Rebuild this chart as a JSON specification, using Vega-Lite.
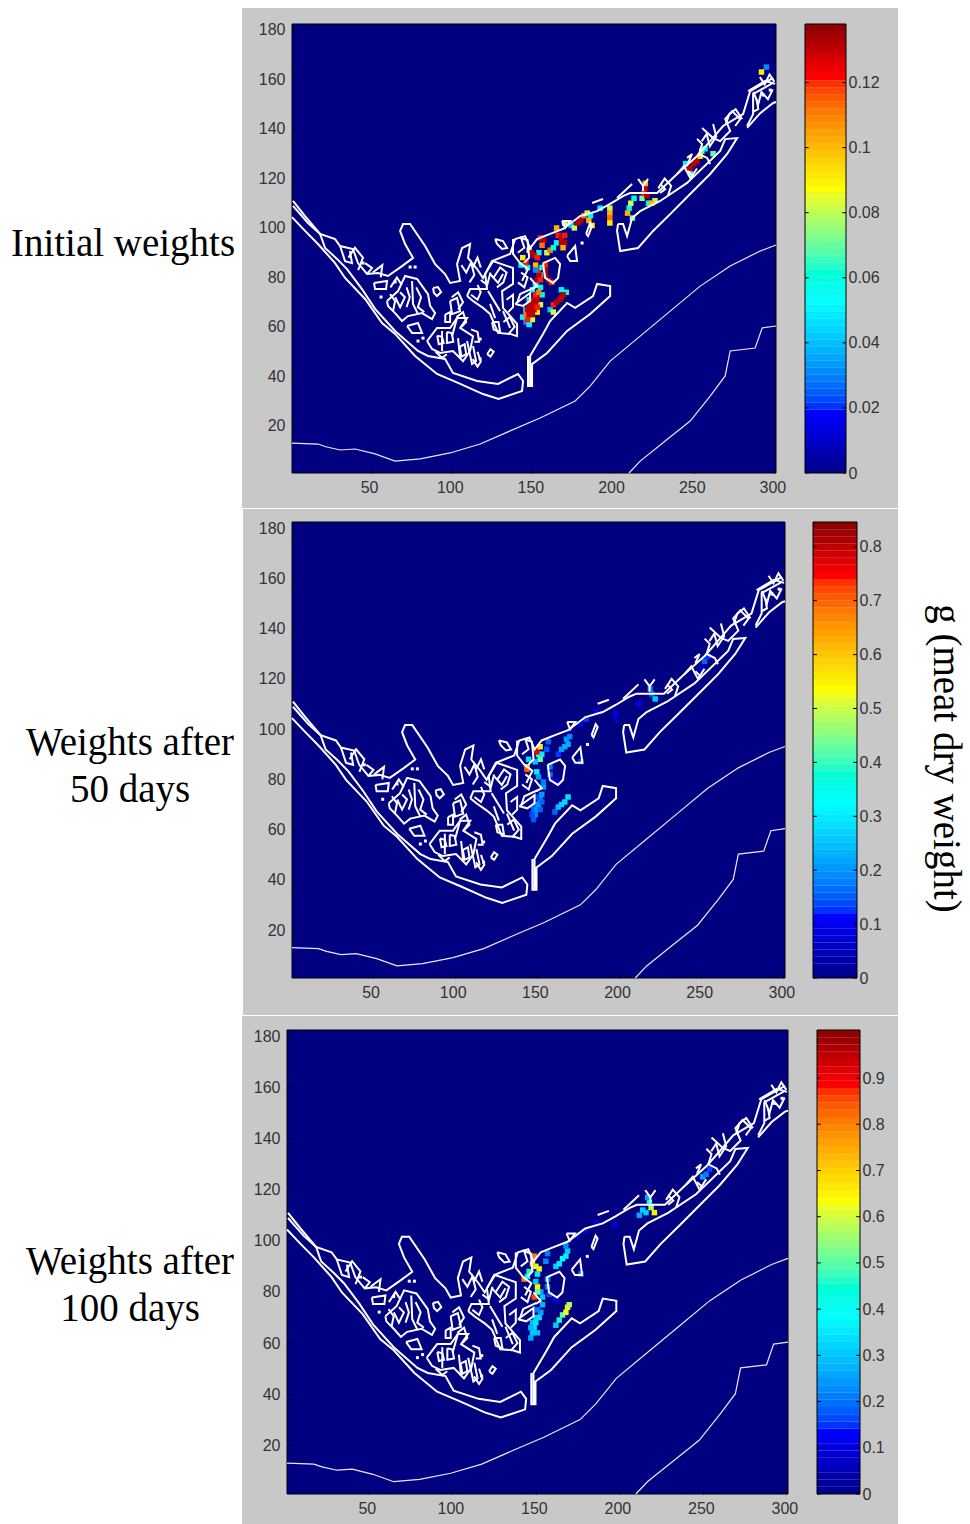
{"$schema":"https://vega.github.io/schema/vega-lite/v6.json","background":"white","padding":{"left":0,"top":7,"right":0,"bottom":0},"config":{"view":{"stroke":null},"axis":{"labelFont":"Liberation Sans","labelFontSize":16,"labelColor":"#333333","title":null,"grid":false}},
"datasets":{
"levels":[{"l":0,"h":1},{"l":1,"h":2},{"l":2,"h":3},{"l":3,"h":4},{"l":4,"h":5},{"l":5,"h":6},{"l":6,"h":7},{"l":7,"h":8},{"l":8,"h":9},{"l":9,"h":10},{"l":10,"h":11},{"l":11,"h":12},{"l":12,"h":13},{"l":13,"h":14},{"l":14,"h":15},{"l":15,"h":16},{"l":16,"h":17},{"l":17,"h":18},{"l":18,"h":19},{"l":19,"h":20},{"l":20,"h":21},{"l":21,"h":22},{"l":22,"h":23},{"l":23,"h":24},{"l":24,"h":25},{"l":25,"h":26},{"l":26,"h":27},{"l":27,"h":28},{"l":28,"h":29},{"l":29,"h":30},{"l":30,"h":31},{"l":31,"h":32},{"l":32,"h":33},{"l":33,"h":34},{"l":34,"h":35},{"l":35,"h":36},{"l":36,"h":37},{"l":37,"h":38},{"l":38,"h":39},{"l":39,"h":40},{"l":40,"h":41},{"l":41,"h":42},{"l":42,"h":43},{"l":43,"h":44},{"l":44,"h":45},{"l":45,"h":46},{"l":46,"h":47},{"l":47,"h":48},{"l":48,"h":49},{"l":49,"h":50},{"l":50,"h":51},{"l":51,"h":52},{"l":52,"h":53},{"l":53,"h":54},{"l":54,"h":55},{"l":55,"h":56},{"l":56,"h":57},{"l":57,"h":58},{"l":58,"h":59},{"l":59,"h":60},{"l":60,"h":61},{"l":61,"h":62},{"l":62,"h":63},{"l":63,"h":64}],
"thin":[{"id":"t1","x":1,"y":13.1},{"id":"t1","x":17.1,"y":12.7},{"id":"t1","x":22,"y":11.6},{"id":"t1","x":30.8,"y":10.3},{"id":"t1","x":40.1,"y":10.7},{"id":"t1","x":52.5,"y":8.7},{"id":"t1","x":64.9,"y":5.8},{"id":"t1","x":80.4,"y":6.7},{"id":"t1","x":99,"y":9.1},{"id":"t1","x":117.6,"y":12.7},{"id":"t1","x":136.2,"y":18},{"id":"t1","x":154.8,"y":23.2},{"id":"t1","x":176.5,"y":30.1},{"id":"t1","x":185.8,"y":36.1},{"id":"t1","x":198.2,"y":46.2},{"id":"t1","x":216.8,"y":56.3},{"id":"t1","x":235.4,"y":66.4},{"id":"t1","x":254,"y":76.5},{"id":"t1","x":272.6,"y":84.6},{"id":"t1","x":291.2,"y":90.7},{"id":"t1","x":301,"y":93.1},{"id":"t2","x":209.9,"y":1},{"id":"t2","x":216.8,"y":5.8},{"id":"t2","x":232.3,"y":13.9},{"id":"t2","x":247.8,"y":22},{"id":"t2","x":260.2,"y":32.1},{"id":"t2","x":269.5,"y":40.2},{"id":"t2","x":272.6,"y":50.3},{"id":"t2","x":288.1,"y":51.5},{"id":"t2","x":292.4,"y":59.6},{"id":"t2","x":301,"y":60.4}],
"coast":[{"id":"c1","x":1,"y":104.4},{"id":"c1","x":9.1,"y":98.8},{"id":"c1","x":17.1,"y":93.5},{"id":"c1","x":27.7,"y":85.8},{"id":"c1","x":33.9,"y":79.8},{"id":"c1","x":46.3,"y":71.3},{"id":"c1","x":56.8,"y":61.6},{"id":"c1","x":64.9,"y":57.2},{"id":"c1","x":77.3,"y":48.3},{"id":"c1","x":90.9,"y":41},{"id":"c1","x":103.9,"y":37.4},{"id":"c1","x":119.4,"y":32.9},{"id":"c1","x":129,"y":30.9},{"id":"c1","x":143.6,"y":34.1},{"id":"c1","x":144.2,"y":38.2},{"id":"c1","x":141.1,"y":41},{"id":"c1","x":128.7,"y":37},{"id":"c1","x":115.7,"y":38.2},{"id":"c1","x":100.8,"y":41.4},{"id":"c1","x":95.9,"y":47.1},{"id":"c1","x":85.3,"y":48.3},{"id":"c1","x":79.1,"y":50.3},{"id":"c1","x":64.9,"y":58.4},{"id":"c1","x":52.5,"y":67.3},{"id":"c1","x":44.4,"y":75.3},{"id":"c1","x":35.1,"y":83.4},{"id":"c1","x":28.9,"y":87.5},{"id":"c1","x":21.5,"y":91.9},{"id":"c1","x":18.4,"y":97.6},{"id":"c1","x":10.9,"y":102},{"id":"c1","x":1.6,"y":108.9},
{"id":"c2","x":1.6,"y":110.9},{"id":"c2","x":9.1,"y":104.8},{"id":"c2","x":18.4,"y":97.6},{"id":"c2","x":27.7,"y":95.5},{"id":"c2","x":30.8,"y":92.7},{"id":"c2","x":38.8,"y":91.5},{"id":"c2","x":41.9,"y":85.8},{"id":"c2","x":47.5,"y":81.4},{"id":"c2","x":54.3,"y":81.8},{"id":"c2","x":60.5,"y":80.6},{"id":"c2","x":69.2,"y":84.6},{"id":"c2","x":76,"y":87.9},{"id":"c2","x":71.1,"y":93.5},{"id":"c2","x":68,"y":98.8},{"id":"c2","x":69.8,"y":101.6},{"id":"c2","x":74.2,"y":101.6},{"id":"c2","x":83.5,"y":92.7},{"id":"c2","x":89.7,"y":85.4},{"id":"c2","x":95.9,"y":81.4},{"id":"c2","x":99,"y":77.8},{"id":"c2","x":105.2,"y":78.6},{"id":"c2","x":103.3,"y":85.4},{"id":"c2","x":106.4,"y":91.9},{"id":"c2","x":111.4,"y":93.5},{"id":"c2","x":110.1,"y":87.9},{"id":"c2","x":115.7,"y":83.4},{"id":"c2","x":119.4,"y":79.8},{"id":"c2","x":125,"y":86.6},{"id":"c2","x":136.2,"y":89.5},{"id":"c2","x":139.3,"y":95.5},{"id":"c2","x":145.5,"y":96.7},{"id":"c2","x":148.6,"y":91.9},{"id":"c2","x":152.9,"y":95.5},{"id":"c2","x":161,"y":97.6},{"id":"c2","x":169,"y":99.6},{"id":"c2","x":179.6,"y":104.8},{"id":"c2","x":190.1,"y":106.8},{"id":"c2","x":198.2,"y":109.7},{"id":"c2","x":206.2,"y":112.9},{"id":"c2","x":210.6,"y":114.1},{"id":"c2","x":227.3,"y":114.1},{"id":"c2","x":239.7,"y":121.8},{"id":"c2","x":252.1,"y":129.1},{"id":"c2","x":260.2,"y":135.1},{"id":"c2","x":268.2,"y":141.2},{"id":"c2","x":280.6,"y":146},{"id":"c2","x":285,"y":155.3},{"id":"c2","x":299.2,"y":160.6},
{"id":"c3","x":203.1,"y":101.6},{"id":"c3","x":202.5,"y":98.8},{"id":"c3","x":204.4,"y":90.7},{"id":"c3","x":215.5,"y":91.9},{"id":"c3","x":224.8,"y":98.8},{"id":"c3","x":235.4,"y":105.6},{"id":"c3","x":247.8,"y":113.7},{"id":"c3","x":260.2,"y":121.8},{"id":"c3","x":270.7,"y":129.9},{"id":"c3","x":276.9,"y":136.3},{"id":"c3","x":269.5,"y":135.9},{"id":"c3","x":266.4,"y":131.1},{"id":"c3","x":245.9,"y":118.2},{"id":"c3","x":229.2,"y":110.9},{"id":"c3","x":216.8,"y":106.8},{"id":"c3","x":211.8,"y":104},{"id":"c3","x":208.7,"y":96.7},{"id":"c3","x":206.2,"y":101.6},{"id":"c3","x":203.1,"y":101.6},
{"id":"c4","x":283.1,"y":141.2},{"id":"c4","x":286.8,"y":146},{"id":"c4","x":286.8,"y":154.1},{"id":"c4","x":299.2,"y":158.6},
{"id":"c4b","x":283.1,"y":140.4},{"id":"c4b","x":291.2,"y":146.4},{"id":"c4b","x":299.2,"y":150.5},{"id":"c4b","x":301,"y":150.9},
{"id":"c5","x":148.6,"y":36.1},{"id":"c5","x":148.6,"y":48.3},{"id":"c5","x":156.6,"y":57.2},{"id":"c5","x":161,"y":62.4},{"id":"c5","x":171.5,"y":69.7},{"id":"c5","x":176.5,"y":67.7},{"id":"c5","x":187.6,"y":72.5},{"id":"c5","x":190.1,"y":77.4},{"id":"c5","x":198.2,"y":76.5},{"id":"c5","x":198.2,"y":72.5},{"id":"c5","x":185.8,"y":65.2},{"id":"c5","x":171.5,"y":58.4},{"id":"c5","x":159.1,"y":49.5},{"id":"c5","x":149.8,"y":45},{"id":"c5","x":149.8,"y":36.1},{"id":"c5","x":147.3,"y":36.1},{"id":"c5","x":147.3,"y":48.3},
{"id":"i1","x":51.8,"y":77.8},{"id":"i1","x":59.9,"y":78.6},{"id":"i1","x":59.3,"y":75.3},{"id":"i1","x":52.5,"y":75.3},{"id":"i1","x":51.8,"y":77.8},
{"id":"i2","x":59.9,"y":70.5},{"id":"i2","x":66.7,"y":74.5},{"id":"i2","x":71.1,"y":80.6},{"id":"i2","x":78.5,"y":79.4},{"id":"i2","x":85.3,"y":73.3},{"id":"i2","x":86.6,"y":68.5},{"id":"i2","x":89.7,"y":65.6},{"id":"i2","x":87.8,"y":63.2},{"id":"i2","x":81.6,"y":65.6},{"id":"i2","x":72.9,"y":64.4},{"id":"i2","x":69.2,"y":62.4},{"id":"i2","x":64.9,"y":65.6},{"id":"i2","x":60.5,"y":68.5},{"id":"i2","x":59.9,"y":70.5},
{"id":"i2b","x":75.4,"y":78.6},{"id":"i2b","x":76,"y":69.3},{"id":"i2b","x":79.1,"y":65.2},
{"id":"i3","x":72.3,"y":60.4},{"id":"i3","x":79.1,"y":61.6},{"id":"i3","x":81.6,"y":57.6},{"id":"i3","x":75.4,"y":57.6},{"id":"i3","x":72.3,"y":60.4},
{"id":"i4","x":88.4,"y":75.7},{"id":"i4","x":91.5,"y":76.1},{"id":"i4","x":93.4,"y":74.1},{"id":"i4","x":90.9,"y":72.5},{"id":"i4","x":89,"y":73.7},{"id":"i4","x":88.4,"y":75.7},
{"id":"d1","x":84.7,"y":54.3},{"id":"d1","x":90.9,"y":59.6},{"id":"d1","x":99,"y":59.6},{"id":"d1","x":103.3,"y":63.6},{"id":"d1","x":109.5,"y":63.6},{"id":"d1","x":105.2,"y":59.6},{"id":"d1","x":113.2,"y":56.3},{"id":"d1","x":111.4,"y":50.3},{"id":"d1","x":107,"y":46.2},{"id":"d1","x":100.8,"y":50.3},{"id":"d1","x":92.8,"y":49.5},{"id":"d1","x":87.8,"y":51.1},{"id":"d1","x":84.7,"y":54.3},
{"id":"d3","x":94,"y":58.4},{"id":"d3","x":94,"y":50.3},
{"id":"d5","x":103.9,"y":55.5},{"id":"d5","x":105.2,"y":47.5},
{"id":"d6","x":109.5,"y":54.3},{"id":"d6","x":112.6,"y":45},{"id":"d6","x":115.1,"y":46.2},{"id":"d6","x":113.2,"y":52.3},
{"id":"d7","x":99,"y":70.5},{"id":"d7","x":103.3,"y":71.7},{"id":"d7","x":105.2,"y":66.4},{"id":"d7","x":100.2,"y":65.2},{"id":"d7","x":99,"y":70.5},
{"id":"d9","x":103.3,"y":63.6},{"id":"d9","x":100.2,"y":56.3},
{"id":"l1","x":91,"y":56.5},{"id":"l1","x":94,"y":56},{"id":"l1","x":95,"y":53.5},{"id":"l1","x":92,"y":53},{"id":"l1","x":91,"y":56.5},
{"id":"l2","x":97,"y":58},{"id":"l2","x":100,"y":57.5},{"id":"l2","x":101,"y":54},{"id":"l2","x":97,"y":53.5},{"id":"l2","x":97,"y":58},
{"id":"l3","x":105,"y":52},{"id":"l3","x":108,"y":53},{"id":"l3","x":109,"y":49},{"id":"l3","x":106,"y":48},{"id":"l3","x":105,"y":52},
{"id":"l4","x":90,"y":50},{"id":"l4","x":94,"y":47.5},{"id":"l4","x":97,"y":49},
{"id":"l5","x":112,"y":59},{"id":"l5","x":116,"y":58},{"id":"l5","x":117,"y":54},{"id":"l5","x":114,"y":54},
{"id":"l6","x":103,"y":64},{"id":"l6","x":107,"y":66},{"id":"l6","x":109,"y":62},{"id":"l6","x":106,"y":60},
{"id":"l7","x":100,"y":72},{"id":"l7","x":104,"y":74},{"id":"l7","x":107,"y":70},{"id":"l7","x":104,"y":67},
{"id":"l8","x":96,"y":65},{"id":"l8","x":99,"y":66},{"id":"l8","x":99,"y":62},{"id":"l8","x":96,"y":62},{"id":"l8","x":96,"y":65},
{"id":"l9","x":113,"y":47},{"id":"l9","x":116,"y":44},{"id":"l9","x":118,"y":46},{"id":"l9","x":116,"y":50},
{"id":"l10","x":122,"y":49},{"id":"l10","x":124,"y":48},{"id":"l10","x":126,"y":50},{"id":"l10","x":124,"y":51},{"id":"l10","x":122,"y":49},
{"id":"e1","x":109.5,"y":72.5},{"id":"e1","x":111.4,"y":75.3},{"id":"e1","x":121.9,"y":75.3},{"id":"e1","x":120.7,"y":81.4},{"id":"e1","x":125.6,"y":86.6},{"id":"e1","x":138,"y":83.8},{"id":"e1","x":138,"y":77.4},{"id":"e1","x":131.2,"y":74.5},{"id":"e1","x":131.8,"y":67.7},{"id":"e1","x":140.5,"y":61.2},{"id":"e1","x":140.5,"y":56.3},{"id":"e1","x":136.2,"y":57.2},{"id":"e1","x":128.7,"y":57.6},{"id":"e1","x":123.8,"y":65.2},{"id":"e1","x":119.4,"y":67.7},{"id":"e1","x":113.2,"y":70.5},{"id":"e1","x":109.5,"y":72.5},
{"id":"e2","x":123.8,"y":81.4},{"id":"e2","x":128.7,"y":77.8},{"id":"e2","x":131.8,"y":81.4},
{"id":"e3","x":122.5,"y":74.5},{"id":"e3","x":130,"y":66.4},
{"id":"e4","x":123.8,"y":69.3},{"id":"e4","x":126.9,"y":63.6},
{"id":"e5","x":131.8,"y":66.4},{"id":"e5","x":136.2,"y":59.6},
{"id":"e6","x":126.9,"y":95.5},{"id":"e6","x":131.8,"y":94.7},{"id":"e6","x":134.3,"y":91.9},{"id":"e6","x":131.2,"y":91.5},{"id":"e6","x":128.1,"y":93.5},{"id":"e6","x":126.9,"y":95.5},
{"id":"m1","x":112,"y":73},{"id":"m1","x":116,"y":71},{"id":"m1","x":118,"y":74},{"id":"m1","x":116,"y":77},
{"id":"m2","x":126,"y":80},{"id":"m2","x":130,"y":84},{"id":"m2","x":134,"y":82},{"id":"m2","x":132,"y":78},{"id":"m2","x":128,"y":76},
{"id":"m3","x":134,"y":71},{"id":"m3","x":138,"y":73},{"id":"m3","x":138,"y":68},{"id":"m3","x":135,"y":66},
{"id":"m4","x":125,"y":62},{"id":"m4","x":129,"y":62},{"id":"m4","x":130,"y":58},{"id":"m4","x":126,"y":59},{"id":"m4","x":125,"y":62},
{"id":"m5","x":132,"y":62},{"id":"m5","x":136,"y":64},{"id":"m5","x":139,"y":60},{"id":"m5","x":135,"y":57},
{"id":"m6","x":118,"y":79},{"id":"m6","x":122,"y":77},{"id":"m6","x":124,"y":82},
{"id":"m7","x":113,"y":84},{"id":"m7","x":116,"y":88},{"id":"m7","x":118,"y":84},
{"id":"m8","x":106,"y":85},{"id":"m8","x":109,"y":82},{"id":"m8","x":112,"y":86},{"id":"m8","x":114,"y":81},{"id":"m8","x":111,"y":78},
{"id":"m9","x":141,"y":90},{"id":"m9","x":145,"y":92},{"id":"m9","x":143,"y":96},{"id":"m9","x":147,"y":95},{"id":"m9","x":148,"y":88},{"id":"m9","x":145,"y":86},
{"id":"m10","x":141,"y":78},{"id":"m10","x":145,"y":76},{"id":"m10","x":147,"y":80},{"id":"m10","x":143,"y":82},
{"id":"n1","x":36,"y":88},{"id":"n1","x":40,"y":92},{"id":"n1","x":45,"y":88},{"id":"n1","x":42,"y":83},
{"id":"n2","x":51,"y":82},{"id":"n2","x":57,"y":85},{"id":"n2","x":56,"y":80},
{"id":"n3","x":62,"y":76},{"id":"n3","x":66,"y":80},{"id":"n3","x":69,"y":77},
{"id":"n4","x":65,"y":72},{"id":"n4","x":68,"y":68},{"id":"n4","x":71,"y":72},{"id":"n4","x":68,"y":74},
{"id":"n5","x":78,"y":76},{"id":"n5","x":81,"y":72},{"id":"n5","x":79,"y":68},{"id":"n5","x":83,"y":66},
{"id":"n6","x":72,"y":76},{"id":"n6","x":74,"y":72},{"id":"n6","x":72,"y":68},
{"id":"o1","x":255,"y":135},{"id":"o1","x":258,"y":138},{"id":"o1","x":260,"y":133},{"id":"o1","x":264,"y":137},{"id":"o1","x":262,"y":142},
{"id":"o2","x":270,"y":142},{"id":"o2","x":272,"y":146},{"id":"o2","x":276,"y":148},{"id":"o2","x":280,"y":144},
{"id":"o3","x":287,"y":155},{"id":"o3","x":290,"y":150},{"id":"o3","x":292,"y":155},{"id":"o3","x":296,"y":152},{"id":"o3","x":299,"y":156},
{"id":"o4","x":291,"y":161},{"id":"o4","x":294,"y":158},{"id":"o4","x":297,"y":162},{"id":"o4","x":300,"y":159},
{"id":"o5","x":287,"y":147},{"id":"o5","x":290,"y":148},{"id":"o5","x":289,"y":152},
{"id":"o6","x":240,"y":122},{"id":"o6","x":244,"y":125},{"id":"o6","x":248,"y":120},{"id":"o6","x":252,"y":124},
{"id":"o7","x":228,"y":116},{"id":"o7","x":232,"y":120},{"id":"o7","x":236,"y":117},{"id":"o7","x":234,"y":113},
{"id":"f1","x":140.5,"y":69.7},{"id":"f1","x":142.4,"y":73.3},{"id":"f1","x":150.4,"y":75.7},
{"id":"f2","x":139.3,"y":69.3},{"id":"f2","x":148.6,"y":73.7},{"id":"f2","x":148.6,"y":70.5},{"id":"f2","x":144.2,"y":68.5},{"id":"f2","x":139.3,"y":69.3},
{"id":"f3","x":148.6,"y":79.8},{"id":"f3","x":152.9,"y":76.5},{"id":"f3","x":149.8,"y":75.3},
{"id":"f4","x":138,"y":95.5},{"id":"f4","x":138,"y":89.5},{"id":"f4","x":142.4,"y":85.8},{"id":"f4","x":147.3,"y":83.4},{"id":"f4","x":143.6,"y":78.6},
{"id":"g1","x":156.6,"y":85.8},{"id":"g1","x":164.1,"y":87.9},{"id":"g1","x":167.2,"y":85.4},{"id":"g1","x":165.9,"y":79.8},{"id":"g1","x":162.8,"y":77.8},{"id":"g1","x":157.9,"y":79.8},{"id":"g1","x":156.6,"y":85.8},
{"id":"g2","x":171.5,"y":88.7},{"id":"g2","x":176.5,"y":92.7},{"id":"g2","x":177.7,"y":86.6},{"id":"g2","x":173.4,"y":86.6},{"id":"g2","x":171.5,"y":88.7},
{"id":"g3","x":183.3,"y":97.6},{"id":"g3","x":185.8,"y":102},{"id":"g3","x":187,"y":100.8},{"id":"g3","x":184.5,"y":96.7},{"id":"g3","x":183.3,"y":97.6},
{"id":"h1","x":168.4,"y":102.8},{"id":"h1","x":173.4,"y":102.8},{"id":"h1","x":170.3,"y":100},{"id":"h1","x":168.4,"y":102.8},
{"id":"h2","x":187,"y":110.1},{"id":"h2","x":193.8,"y":111.7},
{"id":"h3","x":202.5,"y":112.1},{"id":"h3","x":211.8,"y":117.8},
{"id":"h4","x":215.5,"y":119.8},{"id":"h4","x":218.6,"y":117},{"id":"h4","x":221.7,"y":119.8},
{"id":"h5","x":218.6,"y":117},{"id":"h5","x":218.6,"y":114.9},
{"id":"j1","x":255.2,"y":140.4},{"id":"j1","x":262,"y":136.3},{"id":"j1","x":266.4,"y":135.1},{"id":"j1","x":272.6,"y":139.2},{"id":"j1","x":269.5,"y":144},{"id":"j1","x":273.8,"y":147.2},{"id":"j1","x":278.8,"y":144},{"id":"j1","x":275.7,"y":141.2},
{"id":"j2","x":283.7,"y":155.3},{"id":"j2","x":294.3,"y":159.4},{"id":"j2","x":300.5,"y":158.2},
{"id":"j3","x":252.1,"y":136},{"id":"j3","x":255.2,"y":133.9},{"id":"j3","x":253.3,"y":129.9},{"id":"j3","x":258.3,"y":128.3},{"id":"j3","x":260.2,"y":125.8},
{"id":"j4","x":245.9,"y":128.3},{"id":"j4","x":249,"y":129.9},{"id":"j4","x":246.5,"y":126.2},
{"id":"j5","x":246.5,"y":123},{"id":"j5","x":249.6,"y":121},
{"id":"j6","x":229.2,"y":117.8},{"id":"j6","x":232.3,"y":115.7},{"id":"j6","x":229.2,"y":114.1},
{"id":"k1","x":30.8,"y":92.7},{"id":"k1","x":33.9,"y":86.6},{"id":"k1","x":38.2,"y":85.8},{"id":"k1","x":36.9,"y":90.7},
{"id":"k2","x":46.3,"y":85.8},{"id":"k2","x":50.6,"y":83.8},{"id":"k2","x":47.5,"y":81.4},
{"id":"k3","x":61.8,"y":73.3},{"id":"k3","x":64.9,"y":70.5},{"id":"k3","x":63.6,"y":66.4}],
"dots":[{"x":64.9,"y":78.2},{"x":56.2,"y":72.1},{"x":79.1,"y":54.3},{"x":82.2,"y":55.5},{"x":117.6,"y":55.1},{"x":117.6,"y":47.1},{"x":180.8,"y":93.9},{"x":293,"y":153.7},{"x":297.4,"y":155.7},{"x":45,"y":85.8},{"x":74.2,"y":84.2},{"x":77.3,"y":84.2}],
"h1":[{"x":146,"y":62,"v":0.03},{"x":148,"y":61,"v":0.05},{"x":150,"y":63,"v":0.08},{"x":153,"y":66,"v":0.09},{"x":155,"y":69,"v":0.08},{"x":156,"y":73,"v":0.06},{"x":155,"y":76,"v":0.06},{"x":152,"y":77,"v":0.07},{"x":150,"y":75,"v":0.05},{"x":148,"y":71,"v":0.05},{"x":146,"y":67,"v":0.05},{"x":144,"y":64,"v":0.05},{"x":147,"y":63,"v":0.12},{"x":146,"y":65,"v":0.11},{"x":148,"y":65,"v":0.13},{"x":150,"y":65,"v":0.13},{"x":147,"y":67,"v":0.13},{"x":149,"y":67,"v":0.13},{"x":151,"y":67,"v":0.13},{"x":148,"y":69,"v":0.13},{"x":150,"y":69,"v":0.13},{"x":152,"y":69,"v":0.13},{"x":153,"y":68,"v":0.12},{"x":150,"y":71,"v":0.13},{"x":152,"y":71,"v":0.13},{"x":153,"y":71,"v":0.13},{"x":152,"y":73,"v":0.12},{"x":154,"y":74,"v":0.11},{"x":152,"y":77,"v":0.05},{"x":156,"y":81,"v":0.05},{"x":153,"y":79,"v":0.13},{"x":154,"y":81,"v":0.13},{"x":155,"y":79,"v":0.12},{"x":153.5,"y":83,"v":0.12},{"x":161,"y":67,"v":0.04},{"x":163,"y":66,"v":0.08},{"x":171,"y":74,"v":0.06},{"x":168,"y":75,"v":0.05},{"x":163,"y":69,"v":0.12},{"x":165,"y":70,"v":0.13},{"x":167,"y":71,"v":0.13},{"x":169,"y":73,"v":0.13},{"x":168,"y":72,"v":0.13},{"x":156,"y":84,"v":0.06},{"x":158,"y":85,"v":0.12},{"x":158,"y":83,"v":0.13},{"x":158,"y":81,"v":0.13},{"x":160,"y":79,"v":0.13},{"x":162,"y":78,"v":0.12},{"x":148,"y":91,"v":0.08},{"x":154,"y":90,"v":0.06},{"x":149,"y":90,"v":0.13},{"x":151,"y":89,"v":0.13},{"x":153,"y":88,"v":0.12},{"x":143,"y":85,"v":0.05},{"x":147,"y":84,"v":0.06},{"x":144,"y":88,"v":0.09},{"x":146,"y":86,"v":0.12},{"x":152,"y":85,"v":0.1},{"x":152,"y":83,"v":0.03},{"x":155,"y":96,"v":0.12},{"x":157,"y":95,"v":0.13},{"x":156,"y":93,"v":0.11},{"x":165,"y":94,"v":0.05},{"x":166,"y":97,"v":0.12},{"x":168,"y":96,"v":0.13},{"x":170,"y":97,"v":0.12},{"x":168,"y":94,"v":0.13},{"x":170,"y":94,"v":0.13},{"x":169,"y":92,"v":0.1},{"x":159,"y":90,"v":0.08},{"x":161,"y":91,"v":0.11},{"x":163,"y":92,"v":0.06},{"x":174,"y":101,"v":0.04},{"x":176,"y":100,"v":0.08},{"x":178,"y":102,"v":0.13},{"x":180,"y":103,"v":0.13},{"x":182,"y":105,"v":0.11},{"x":184,"y":106,"v":0.08},{"x":186,"y":105,"v":0.05},{"x":185,"y":103,"v":0.1},{"x":187,"y":101,"v":0.09},{"x":165,"y":100,"v":0.1},{"x":170,"y":102,"v":0.08},{"x":198,"y":108,"v":0.08},{"x":198,"y":106,"v":0.1},{"x":198,"y":104,"v":0.11},{"x":198,"y":102,"v":0.09},{"x":192,"y":108,"v":0.05},{"x":210,"y":108,"v":0.05},{"x":211,"y":110,"v":0.08},{"x":213,"y":112,"v":0.06},{"x":209,"y":106,"v":0.1},{"x":212,"y":104,"v":0.07},{"x":222,"y":110,"v":0.06},{"x":218,"y":112,"v":0.07},{"x":226,"y":111,"v":0.08},{"x":220,"y":116,"v":0.13},{"x":219,"y":114,"v":0.12},{"x":221,"y":113,"v":0.13},{"x":224,"y":110,"v":0.1},{"x":220,"y":118,"v":0.1},{"x":248,"y":122,"v":0.05},{"x":245,"y":126,"v":0.05},{"x":246,"y":124,"v":0.13},{"x":248,"y":124,"v":0.13},{"x":250,"y":126,"v":0.13},{"x":252,"y":127,"v":0.13},{"x":254,"y":129,"v":0.09},{"x":255,"y":131,"v":0.07},{"x":257,"y":132,"v":0.06},{"x":262,"y":130,"v":0.07},{"x":295,"y":165,"v":0.03},{"x":292,"y":163,"v":0.09}],
"h2":[{"x":148,"y":64,"v":0.14},{"x":149,"y":66,"v":0.18},{"x":147,"y":66,"v":0.13},{"x":148,"y":68,"v":0.15},{"x":150,"y":68,"v":0.2},{"x":149,"y":70,"v":0.15},{"x":151,"y":70,"v":0.2},{"x":152,"y":72,"v":0.18},{"x":150,"y":73,"v":0.13},{"x":153,"y":74,"v":0.2},{"x":154,"y":77,"v":0.2},{"x":154,"y":79,"v":0.17},{"x":152,"y":68,"v":0.15},{"x":153,"y":71,"v":0.15},{"x":161,"y":67,"v":0.15},{"x":163,"y":69,"v":0.24},{"x":165,"y":70,"v":0.26},{"x":167,"y":71,"v":0.27},{"x":169,"y":73,"v":0.28},{"x":163,"y":90,"v":0.12},{"x":165,"y":92,"v":0.2},{"x":167,"y":93,"v":0.22},{"x":169,"y":94,"v":0.22},{"x":168,"y":96,"v":0.2},{"x":170,"y":97,"v":0.18},{"x":157,"y":95,"v":0.15},{"x":156,"y":92,"v":0.14},{"x":151,"y":90,"v":0.35},{"x":152,"y":88,"v":0.42},{"x":153,"y":90,"v":0.3},{"x":149,"y":87,"v":0.25},{"x":145,"y":88,"v":0.28},{"x":144,"y":85,"v":0.5},{"x":150,"y":91,"v":0.75},{"x":144,"y":84,"v":0.7},{"x":152,"y":93,"v":0.55},{"x":150,"y":83,"v":0.3},{"x":151,"y":81,"v":0.2},{"x":158,"y":85,"v":0.17},{"x":158,"y":82,"v":0.16},{"x":159,"y":80,"v":0.1},{"x":163,"y":79,"v":0.08},{"x":177,"y":87,"v":0.13},{"x":198,"y":106,"v":0.08},{"x":198,"y":104,"v":0.06},{"x":170,"y":100,"v":0.1},{"x":176,"y":102,"v":0.1},{"x":180,"y":104,"v":0.12},{"x":186,"y":107,"v":0.1},{"x":219,"y":116,"v":0.17},{"x":220,"y":114,"v":0.15},{"x":222,"y":112,"v":0.25},{"x":212,"y":110,"v":0.1},{"x":252,"y":127,"v":0.15},{"x":254,"y":129,"v":0.12},{"x":250,"y":124,"v":0.08}],
"h3":[{"x":162,"y":67,"v":0.3},{"x":164,"y":69,"v":0.45},{"x":166,"y":71,"v":0.5},{"x":168,"y":72,"v":0.6},{"x":169,"y":74,"v":0.65},{"x":170,"y":75,"v":0.55},{"x":147,"y":62,"v":0.25},{"x":148,"y":64,"v":0.3},{"x":149,"y":66,"v":0.33},{"x":147,"y":66,"v":0.27},{"x":148,"y":68,"v":0.28},{"x":151,"y":64,"v":0.28},{"x":150,"y":68,"v":0.33},{"x":150,"y":70,"v":0.3},{"x":152,"y":70,"v":0.32},{"x":153,"y":72,"v":0.25},{"x":151,"y":73,"v":0.2},{"x":154,"y":75,"v":0.27},{"x":154,"y":78,"v":0.3},{"x":153,"y":80,"v":0.25},{"x":162,"y":90,"v":0.3},{"x":164,"y":91,"v":0.35},{"x":166,"y":93,"v":0.38},{"x":168,"y":94,"v":0.35},{"x":169,"y":96,"v":0.3},{"x":168,"y":98,"v":0.22},{"x":157,"y":95,"v":0.2},{"x":156,"y":92,"v":0.22},{"x":150,"y":90,"v":0.6},{"x":148,"y":91,"v":0.7},{"x":152,"y":89,"v":0.65},{"x":146,"y":88,"v":0.45},{"x":151,"y":87,"v":0.35},{"x":143,"y":85,"v":0.8},{"x":145,"y":86,"v":0.4},{"x":149,"y":94,"v":0.8},{"x":151,"y":82,"v":0.65},{"x":151,"y":80,"v":0.5},{"x":150,"y":84,"v":0.3},{"x":149,"y":78,"v":0.85},{"x":157,"y":85,"v":0.22},{"x":157,"y":82,"v":0.2},{"x":158,"y":79,"v":0.15},{"x":162,"y":77,"v":0.12},{"x":177,"y":87,"v":0.2},{"x":197,"y":106,"v":0.1},{"x":180,"y":104,"v":0.12},{"x":186,"y":107,"v":0.1},{"x":175,"y":102,"v":0.1},{"x":218,"y":115,"v":0.4},{"x":219,"y":113,"v":0.55},{"x":221,"y":111,"v":0.65},{"x":216,"y":111,"v":0.3},{"x":217,"y":117,"v":0.25},{"x":212,"y":110,"v":0.25},{"x":214,"y":112,"v":0.3},{"x":250,"y":125,"v":0.25},{"x":252,"y":126,"v":0.2},{"x":254,"y":128,"v":0.15}]
},
"spacing":0,
"vconcat":[
{"bounds":"flush","spacing":29,"hconcat":[
{"width":263,"height":449,"data":{"values":[{"label":"Initial weights"}]},"mark":{"type":"text","font":"Liberation Serif","fontSize":39,"align":"center","baseline":"middle","color":"black"},"encoding":{"text":{"field":"label"},"x":{"value":123},"y":{"value":220}}},
{"width":484,"height":449,"encoding":{"x":{"field":"x","type":"quantitative","scale":{"domain":[1,301],"nice":false,"zero":false},"axis":{"values":[50,100,150,200,250,300],"tickSize":-4,"tickColor":"black","domain":false,"labelPadding":10,"labelOffset":-2,"zindex":1}},"y":{"field":"y","type":"quantitative","scale":{"domain":[1,182.4],"nice":false,"zero":false},"axis":{"values":[20,40,60,80,100,120,140,160,180],"tickSize":-4,"tickColor":"black","domain":false,"labelPadding":11,"zindex":1}}},
"layer":[
{"data":{"values":[{"x":-30,"x2":376.7,"y":-13.1,"y2":188.9}]},"mark":{"type":"rect","color":"#c8c8c8"},"encoding":{"x2":{"field":"x2"},"y2":{"field":"y2"}}},
{"data":{"values":[{"x":1,"x2":301,"y":1,"y2":182.4}]},"mark":{"type":"rect","color":"#000080","stroke":"black","strokeWidth":1},"encoding":{"x2":{"field":"x2"},"y2":{"field":"y2"}}},
{"data":{"name":"h1"},"mark":{"type":"point","shape":"square","filled":true,"size":30,"opacity":1},"encoding":{"color":{"field":"v","type":"quantitative","legend":null,"scale":{"domain":[0,0.01725,0.05175,0.08625,0.12075,0.138],"range":["#00008f","#0000ff","#00ffff","#ffff00","#ff0000","#800000"]}}}},
{"data":{"name":"thin"},"mark":{"type":"line","order":false,"color":"#e8e8f4","strokeWidth":1.2},"encoding":{"detail":{"field":"id"}}},
{"data":{"name":"coast"},"mark":{"type":"line","order":false,"color":"white","strokeWidth":2},"encoding":{"detail":{"field":"id"}}},
{"data":{"name":"dots"},"mark":{"type":"point","shape":"square","filled":true,"size":9,"color":"white","opacity":1}}
],"resolve":{"scale":{"color":"independent"}}},
{"width":41,"height":449,"layer":[
{"data":{"name":"levels"},"mark":{"type":"rect"},"encoding":{"y":{"field":"l","type":"quantitative","axis":null,"scale":{"domain":[0,64],"nice":false,"zero":false}},"y2":{"field":"h"},"color":{"field":"l","type":"quantitative","legend":null,"scale":{"domain":[0,8,24,40,56,64],"range":["#00008f","#0000ff","#00ffff","#ffff00","#ff0000","#800000"]}}}},
{"data":{"values":[{"v":0},{"v":0.02},{"v":0.04},{"v":0.06},{"v":0.08},{"v":0.1},{"v":0.12}]},"mark":{"type":"rule","color":"black"},"encoding":{"x":{"datum":0,"type":"quantitative","axis":null,"scale":{"domain":[0,1]}},"x2":{"datum":0.09},"y":{"field":"v","type":"quantitative","scale":{"domain":[0,0.138],"nice":false,"zero":false},"axis":{"orient":"right","values":[0,0.02,0.04,0.06,0.08,0.1,0.12],"format":".2~f","ticks":false,"domain":false,"labelPadding":2}}}},
{"data":{"values":[{"v":0},{"v":0.02},{"v":0.04},{"v":0.06},{"v":0.08},{"v":0.1},{"v":0.12}]},"mark":{"type":"rule","color":"black"},"encoding":{"x":{"datum":0.91,"type":"quantitative","axis":null,"scale":{"domain":[0,1]}},"x2":{"datum":1},"y":{"field":"v","type":"quantitative","scale":{"domain":[0,0.138],"nice":false,"zero":false},"axis":null}}},
{"data":{"values":[{"f":1}]},"mark":{"type":"rect","filled":false,"stroke":"black","strokeWidth":1},"encoding":{}}
],"resolve":{"scale":{"y":"independent"}}}
]},
{"bounds":"flush","spacing":28,"hconcat":[
{"width":264,"height":456,"data":{"values":[{"label":"Weights after","line":1},{"label":"50 days","line":2}]},"mark":{"type":"text","font":"Liberation Serif","fontSize":39,"align":"center","baseline":"middle","color":"black"},"encoding":{"text":{"field":"label"},"x":{"value":130},"y":{"field":"line","type":"ordinal","axis":null,"scale":{"domain":[1,2],"range":[221,268],"padding":0}}}},
{"width":493,"height":456,"encoding":{"x":{"field":"x","type":"quantitative","scale":{"domain":[1,301],"nice":false,"zero":false},"axis":{"values":[50,100,150,200,250,300],"tickSize":-4,"tickColor":"black","domain":false,"labelPadding":10,"labelOffset":-2,"zindex":1}},"y":{"field":"y","type":"quantitative","scale":{"domain":[1,182.4],"nice":false,"zero":false},"axis":{"values":[20,40,60,80,100,120,140,160,180],"tickSize":-4,"tickColor":"black","domain":false,"labelPadding":11,"zindex":1}}},
"layer":[
{"data":{"values":[{"x":-28.8,"x2":369.8,"y":-13.7,"y2":187.6}]},"mark":{"type":"rect","color":"#c8c8c8"},"encoding":{"x2":{"field":"x2"},"y2":{"field":"y2"}}},
{"data":{"values":[{"x":1,"x2":301,"y":1,"y2":182.4}]},"mark":{"type":"rect","color":"#000080","stroke":"black","strokeWidth":1},"encoding":{"x2":{"field":"x2"},"y2":{"field":"y2"}}},
{"data":{"name":"h2"},"mark":{"type":"point","shape":"square","filled":true,"size":30,"opacity":1},"encoding":{"color":{"field":"v","type":"quantitative","legend":null,"scale":{"domain":[0,0.10575,0.31725,0.52875,0.74025,0.846],"range":["#00008f","#0000ff","#00ffff","#ffff00","#ff0000","#800000"]}}}},
{"data":{"name":"thin"},"mark":{"type":"line","order":false,"color":"#e8e8f4","strokeWidth":1.2},"encoding":{"detail":{"field":"id"}}},
{"data":{"name":"coast"},"mark":{"type":"line","order":false,"color":"white","strokeWidth":2},"encoding":{"detail":{"field":"id"}}},
{"data":{"name":"dots"},"mark":{"type":"point","shape":"square","filled":true,"size":9,"color":"white","opacity":1}}
],"resolve":{"scale":{"color":"independent"}}},
{"width":44,"height":456,"layer":[
{"data":{"name":"levels"},"mark":{"type":"rect"},"encoding":{"y":{"field":"l","type":"quantitative","axis":null,"scale":{"domain":[0,64],"nice":false,"zero":false}},"y2":{"field":"h"},"color":{"field":"l","type":"quantitative","legend":null,"scale":{"domain":[0,8,24,40,56,64],"range":["#00008f","#0000ff","#00ffff","#ffff00","#ff0000","#800000"]}}}},
{"data":{"values":[{"v":0},{"v":0.1},{"v":0.2},{"v":0.3},{"v":0.4},{"v":0.5},{"v":0.6},{"v":0.7},{"v":0.8}]},"mark":{"type":"rule","color":"black"},"encoding":{"x":{"datum":0,"type":"quantitative","axis":null,"scale":{"domain":[0,1]}},"x2":{"datum":0.09},"y":{"field":"v","type":"quantitative","scale":{"domain":[0,0.846],"nice":false,"zero":false},"axis":{"orient":"right","values":[0,0.1,0.2,0.3,0.4,0.5,0.6,0.7,0.8],"format":".1~f","ticks":false,"domain":false,"labelPadding":2,"title":"g (meat dry weight)","titleFont":"Liberation Serif","titleFontSize":39,"titleFontWeight":"normal","titleColor":"black","titleAngle":90,"titleX":88,"titleY":236,"titleAlign":"center","titleBaseline":"middle"}}}},
{"data":{"values":[{"v":0},{"v":0.1},{"v":0.2},{"v":0.3},{"v":0.4},{"v":0.5},{"v":0.6},{"v":0.7},{"v":0.8}]},"mark":{"type":"rule","color":"black"},"encoding":{"x":{"datum":0.91,"type":"quantitative","axis":null,"scale":{"domain":[0,1]}},"x2":{"datum":1},"y":{"field":"v","type":"quantitative","scale":{"domain":[0,0.846],"nice":false,"zero":false},"axis":null}}},
{"data":{"values":[{"f":1}]},"mark":{"type":"rect","filled":false,"stroke":"black","strokeWidth":1},"encoding":{}}
],"resolve":{"scale":{"y":"independent"}}}
]},
{"bounds":"flush","spacing":29,"hconcat":[
{"width":258,"height":464,"data":{"values":[{"label":"Weights after","line":1},{"label":"100 days","line":2}]},"mark":{"type":"text","font":"Liberation Serif","fontSize":39,"align":"center","baseline":"middle","color":"black"},"encoding":{"text":{"field":"label"},"x":{"value":130},"y":{"field":"line","type":"ordinal","axis":null,"scale":{"domain":[1,2],"range":[232,279],"padding":0}}}},
{"width":501,"height":464,"encoding":{"x":{"field":"x","type":"quantitative","scale":{"domain":[1,301],"nice":false,"zero":false},"axis":{"values":[50,100,150,200,250,300],"tickSize":-4,"tickColor":"black","domain":false,"labelPadding":10,"labelOffset":-2,"zindex":1}},"y":{"field":"y","type":"quantitative","scale":{"domain":[1,182.4],"nice":false,"zero":false},"axis":{"values":[20,40,60,80,100,120,140,160,180],"tickSize":-4,"tickColor":"black","domain":false,"labelPadding":11,"zindex":1}}},
"layer":[
{"data":{"values":[{"x":-25.9,"x2":366.9,"y":-11.9,"y2":187.9}]},"mark":{"type":"rect","color":"#c8c8c8"},"encoding":{"x2":{"field":"x2"},"y2":{"field":"y2"}}},
{"data":{"values":[{"x":1,"x2":301,"y":1,"y2":182.4}]},"mark":{"type":"rect","color":"#000080","stroke":"black","strokeWidth":1},"encoding":{"x2":{"field":"x2"},"y2":{"field":"y2"}}},
{"data":{"name":"h3"},"mark":{"type":"point","shape":"square","filled":true,"size":30,"opacity":1},"encoding":{"color":{"field":"v","type":"quantitative","legend":null,"scale":{"domain":[0,0.1255,0.3765,0.6275,0.8785,1.004],"range":["#00008f","#0000ff","#00ffff","#ffff00","#ff0000","#800000"]}}}},
{"data":{"name":"thin"},"mark":{"type":"line","order":false,"color":"#e8e8f4","strokeWidth":1.2},"encoding":{"detail":{"field":"id"}}},
{"data":{"name":"coast"},"mark":{"type":"line","order":false,"color":"white","strokeWidth":2},"encoding":{"detail":{"field":"id"}}},
{"data":{"name":"dots"},"mark":{"type":"point","shape":"square","filled":true,"size":9,"color":"white","opacity":1}}
],"resolve":{"scale":{"color":"independent"}}},
{"width":43,"height":464,"layer":[
{"data":{"name":"levels"},"mark":{"type":"rect"},"encoding":{"y":{"field":"l","type":"quantitative","axis":null,"scale":{"domain":[0,64],"nice":false,"zero":false}},"y2":{"field":"h"},"color":{"field":"l","type":"quantitative","legend":null,"scale":{"domain":[0,8,24,40,56,64],"range":["#00008f","#0000ff","#00ffff","#ffff00","#ff0000","#800000"]}}}},
{"data":{"values":[{"v":0},{"v":0.1},{"v":0.2},{"v":0.3},{"v":0.4},{"v":0.5},{"v":0.6},{"v":0.7},{"v":0.8},{"v":0.9}]},"mark":{"type":"rule","color":"black"},"encoding":{"x":{"datum":0,"type":"quantitative","axis":null,"scale":{"domain":[0,1]}},"x2":{"datum":0.09},"y":{"field":"v","type":"quantitative","scale":{"domain":[0,1.004],"nice":false,"zero":false},"axis":{"orient":"right","values":[0,0.1,0.2,0.3,0.4,0.5,0.6,0.7,0.8,0.9],"format":".1~f","ticks":false,"domain":false,"labelPadding":2}}}},
{"data":{"values":[{"v":0},{"v":0.1},{"v":0.2},{"v":0.3},{"v":0.4},{"v":0.5},{"v":0.6},{"v":0.7},{"v":0.8},{"v":0.9}]},"mark":{"type":"rule","color":"black"},"encoding":{"x":{"datum":0.91,"type":"quantitative","axis":null,"scale":{"domain":[0,1]}},"x2":{"datum":1},"y":{"field":"v","type":"quantitative","scale":{"domain":[0,1.004],"nice":false,"zero":false},"axis":null}}},
{"data":{"values":[{"f":1}]},"mark":{"type":"rect","filled":false,"stroke":"black","strokeWidth":1},"encoding":{}}
],"resolve":{"scale":{"y":"independent"}}}
]}
]}
